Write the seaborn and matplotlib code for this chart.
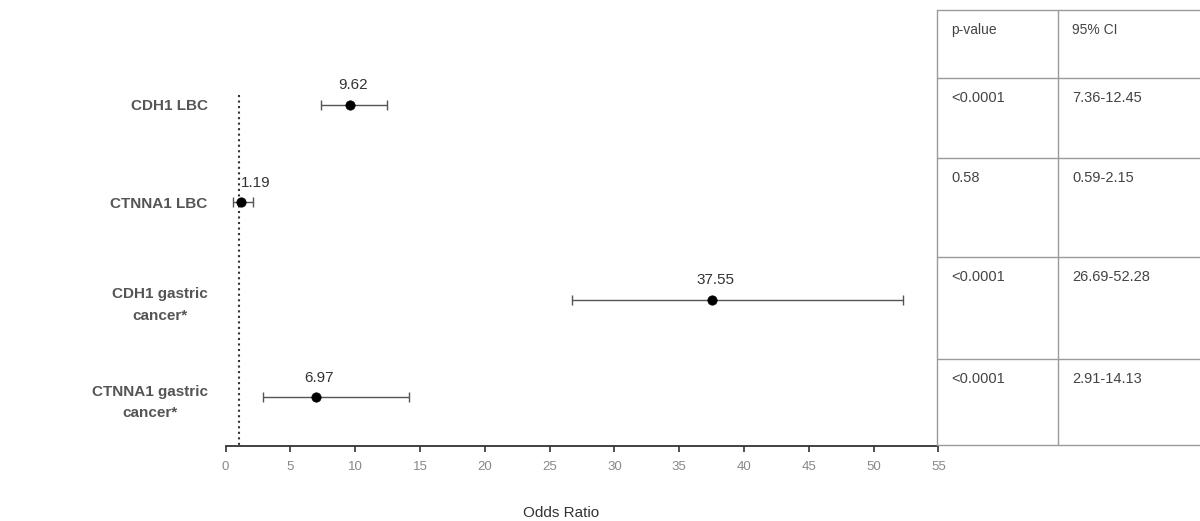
import numpy as np
import pandas as pd
import matplotlib.pyplot as plt
import seaborn as sns

# Forest plot data
labels = ["CDH1 LBC", "CTNNA1 LBC", "CDH1 gastric\ncancer*", "CTNNA1 gastric\ncancer*"]
odds = [9.62, 1.19, 37.55, 6.97]
ci_low = [7.36, 0.59, 26.69, 2.91]
ci_high = [12.45, 2.15, 52.28, 14.13]
p_values = ["<0.0001", "0.58", "<0.0001", "<0.0001"]
ci_text = ["7.36-12.45", "0.59-2.15", "26.69-52.28", "2.91-14.13"]
x_ticks = list(range(0, 60, 5))

df = pd.DataFrame({"label": labels, "odds": odds, "lo": ci_low, "hi": ci_high})
df["pos"] = np.arange(len(df))

sns.set_style("white")
plt.rcParams['font.family'] = ['Liberation Sans', 'DejaVu Sans']

fig = plt.figure(figsize=(12, 5.21), dpi=100)
ax = fig.add_axes([0.188, 0.144, 0.594, 0.741])

# error bars then points
ax.errorbar(df["odds"], df["pos"], xerr=[df["odds"] - df["lo"], df["hi"] - df["odds"]],
            fmt='none', ecolor='#555555', elinewidth=1, capsize=3.5, capthick=1, zorder=2)
sns.scatterplot(data=df, x="odds", y="pos", color='black', s=45, ax=ax, zorder=3, edgecolor='black')

# reference line at OR = 1
ax.vlines(1, -0.1, 3.5, colors='#333333', linestyles=':', linewidth=1.5, zorder=1)

# value labels above the points
for i, row in df.iterrows():
    if row["odds"] < 2:
        ax.annotate(f"{row['odds']:.2f}", (row["odds"], row["pos"]), xytext=(0, 9),
                    textcoords='offset points', ha='left', va='bottom', fontsize=11, color='#333333')
    else:
        ax.annotate(f"{row['odds']:.2f}", (row["odds"], row["pos"]), xytext=(2, 9),
                    textcoords='offset points', ha='center', va='bottom', fontsize=11, color='#333333')

ax.set_xlim(0, 55)
ax.set_ylim(3.5, -0.46)
ax.set_xticks(x_ticks)
ax.set_xticklabels([str(t) for t in x_ticks], color='#888888', fontsize=9.5)
ax.set_yticks(df["pos"])
ax.set_yticklabels(labels, fontsize=11, fontweight='bold', color='#555555',
                   multialignment='center', linespacing=1.7)
ax.tick_params(axis='y', left=False, length=0, pad=13)
ax.tick_params(axis='x', bottom=True, direction='out', length=4, width=1.2, color='#333333', pad=7)
for s in ["top", "right", "left"]:
    ax.spines[s].set_visible(False)
ax.spines["bottom"].set_color('#333333')
ax.spines["bottom"].set_linewidth(1.3)
ax.set_xlabel("Odds Ratio", fontsize=11, color='#333333', labelpad=24)
ax.xaxis.set_label_coords(0.47, -0.155)
ax.set_ylabel("")

# side table with p-values and CIs (figure pixel coords)
W, H = 1200, 521
def fx(px):
    return px / W
def fy(py):
    return 1 - py / H

tab_left, tab_mid, tab_right = 937, 1058, 1200
row_lines = [10, 78, 158, 257, 359, 445]
line_col = '#9a9a9a'
for y in row_lines:
    fig.add_artist(plt.Line2D([fx(tab_left), fx(tab_right)], [fy(y), fy(y)], color=line_col, lw=1))
for x in [tab_left, tab_mid]:
    fig.add_artist(plt.Line2D([fx(x), fx(x)], [fy(row_lines[0]), fy(row_lines[-1])], color=line_col, lw=1))

fig.text(fx(tab_left + 14), fy(row_lines[0] + 20), "p-value", fontsize=10, color='#444444', va='center')
fig.text(fx(tab_mid + 14), fy(row_lines[0] + 20), "95% CI", fontsize=10, color='#444444', va='center')
for k in range(len(p_values)):
    y = row_lines[k + 1] + 20
    fig.text(fx(tab_left + 14), fy(y), p_values[k], fontsize=10.5, color='#444444', va='center')
    fig.text(fx(tab_mid + 14), fy(y), ci_text[k], fontsize=10.5, color='#444444', va='center')

fig.savefig("out.png", dpi=100, facecolor='white')
